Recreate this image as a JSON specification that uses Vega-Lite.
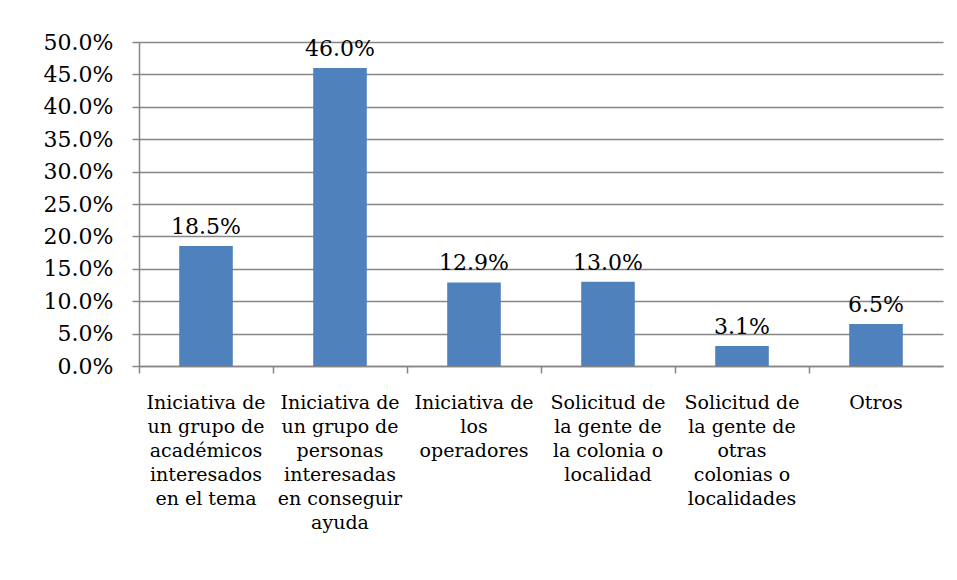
{
  "$schema": "https://vega.github.io/schema/vega-lite/v6.json",
  "width": 804,
  "height": 324,
  "autosize": {"type": "none"},
  "padding": {"left": 139, "top": 42, "right": 14, "bottom": 214},
  "background": "white",
  "config": {
    "view": {"stroke": null},
    "font": "DejaVu Serif"
  },
  "data": {
    "values": [
      {"categoria": "Iniciativa de|un grupo de|académicos|interesados|en el tema", "porcentaje": 0.185},
      {"categoria": "Iniciativa de|un grupo de|personas|interesadas|en conseguir|ayuda", "porcentaje": 0.46},
      {"categoria": "Iniciativa de|los|operadores", "porcentaje": 0.129},
      {"categoria": "Solicitud de|la gente de|la colonia o|localidad", "porcentaje": 0.13},
      {"categoria": "Solicitud de|la gente de|otras|colonias o|localidades", "porcentaje": 0.031},
      {"categoria": "Otros", "porcentaje": 0.065}
    ]
  },
  "encoding": {
    "x": {
      "field": "categoria",
      "type": "nominal",
      "sort": null,
      "title": null,
      "scale": {"paddingInner": 0, "paddingOuter": 0},
      "axis": {
        "labelAngle": 0,
        "labelExpr": "split(datum.label, '|')",
        "labelFont": "DejaVu Serif",
        "labelFontSize": 19,
        "labelColor": "#000000",
        "labelLineHeight": 24,
        "labelLimit": 0,
        "labelPadding": 20,
        "labelBaseline": "top",
        "labelOverlap": false,
        "bandPosition": 0,
        "tickSize": 7,
        "tickColor": "#868686",
        "tickWidth": 1.5,
        "domainColor": "#868686",
        "domainWidth": 1.5,
        "grid": false
      }
    },
    "y": {
      "field": "porcentaje",
      "type": "quantitative",
      "title": null,
      "scale": {"domain": [0, 0.5], "nice": false},
      "axis": {
        "values": [0, 0.05, 0.1, 0.15, 0.2, 0.25, 0.3, 0.35, 0.4, 0.45, 0.5],
        "tickCount": 11,
        "format": ".1%",
        "labelFont": "DejaVu Serif",
        "labelFontSize": 22,
        "labelColor": "#000000",
        "labelPadding": 19,
        "labelOverlap": false,
        "tickSize": 7,
        "tickColor": "#868686",
        "tickWidth": 1.5,
        "domainColor": "#868686",
        "domainWidth": 1.5,
        "grid": true,
        "gridColor": "#868686",
        "gridWidth": 1.5
      }
    }
  },
  "layer": [
    {
      "mark": {"type": "bar", "width": {"band": 0.4}, "color": "#4F81BD"}
    },
    {
      "mark": {"type": "text", "font": "DejaVu Serif", "fontSize": 22, "color": "#000000", "baseline": "alphabetic", "dy": -12},
      "encoding": {
        "text": {"field": "porcentaje", "type": "quantitative", "format": ".1%"}
      }
    }
  ]
}
